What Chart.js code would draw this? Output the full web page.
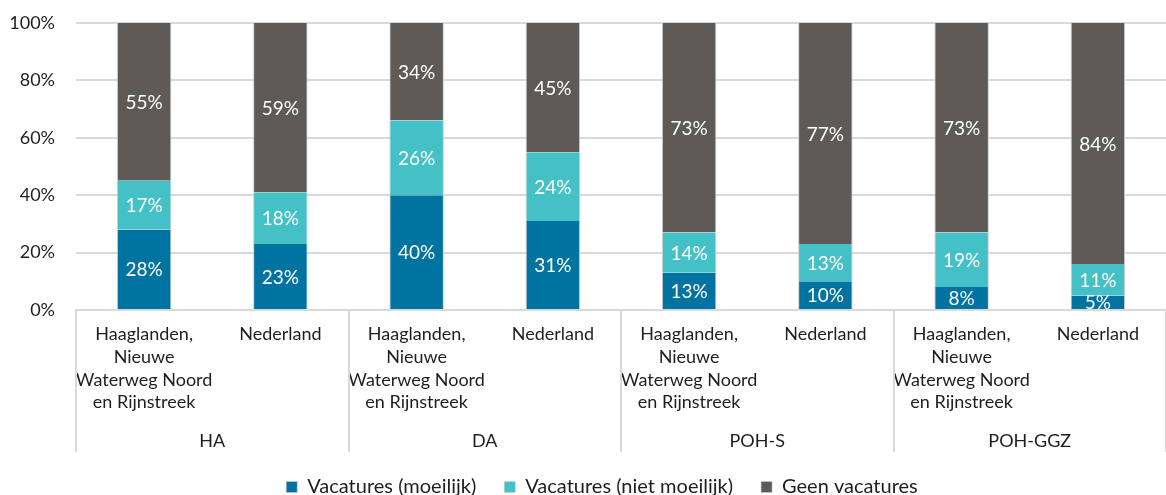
<!DOCTYPE html>
<html>
<head>
<meta charset="utf-8">
<script src="https://cdn.jsdelivr.net/npm/chart.js@4.4.1/dist/chart.umd.min.js"></script>
<style>
  html, body { margin: 0; padding: 0; background: #fff; }
  #wrap { width: 1166px; height: 495px; }
</style>
</head>
<body>
<div id="wrap"><canvas id="vacChart"></canvas></div>
<script>
const regionLabel = ["Haaglanden,", "Nieuwe", "Waterweg Noord", "en Rijnstreek"];
const categories = [regionLabel, "Nederland", regionLabel, "Nederland", regionLabel, "Nederland", regionLabel, "Nederland"];
const groups = ["HA", "DA", "POH-S", "POH-GGZ"];

const moeilijk = [28, 23, 40, 31, 13, 10, 8, 5];
const nietMoeilijk = [17, 18, 26, 24, 14, 13, 19, 11];
const geen = [55, 59, 34, 45, 73, 77, 73, 84];

const yTicks = [0, 20, 40, 60, 80, 100];

const fontName = "Lato, 'Noto Sans', sans-serif";
const gridColor = "#d9d9d9";
const textColor = "#1e1e1e";

// white % labels in the middle of every segment
const segmentLabels = {
  id: "segmentLabels",
  afterDatasetsDraw(chart) {
    const ctx = chart.ctx;
    const area = chart.chartArea;
    ctx.save();
    ctx.beginPath();
    ctx.rect(area.left, area.top, area.right - area.left, area.bottom - area.top);
    ctx.clip();
    ctx.font = "19px " + fontName;
    ctx.fillStyle = "#ffffff";
    ctx.textAlign = "center";
    ctx.textBaseline = "middle";
    chart.data.datasets.forEach((ds, i) => {
      const meta = chart.getDatasetMeta(i);
      meta.data.forEach((bar, j) => {
        const yMid = (bar.y + bar.base) / 2 + 1;
        ctx.fillText(ds.data[j] + "%", bar.x, yMid);
      });
    });
    ctx.restore();
  },
};

// second level of the x axis: group names + separator lines
const groupAxis = {
  id: "groupAxis",
  afterLayout(chart) {
    // legend sits a bit right of centre in the original
    chart.legend.left += 19;
    chart.legend.right += 19;
  },
  afterDraw(chart) {
    const ctx = chart.ctx;
    const xScale = chart.scales.x;
    const area = chart.chartArea;
    const step = xScale.getPixelForValue(1) - xScale.getPixelForValue(0);
    ctx.save();
    ctx.strokeStyle = gridColor;
    ctx.lineWidth = 2;
    for (let g = 0; g <= groups.length; g++) {
      let x = xScale.getPixelForValue(g * 2) - step / 2;
      x = Math.round(x);
      ctx.beginPath();
      ctx.moveTo(x, area.bottom);
      ctx.lineTo(x, area.bottom + 142);
      ctx.stroke();
    }
    ctx.font = "18px " + fontName;
    ctx.fillStyle = textColor;
    ctx.textAlign = "center";
    ctx.textBaseline = "middle";
    groups.forEach((name, g) => {
      const x = (xScale.getPixelForValue(g * 2) + xScale.getPixelForValue(g * 2 + 1)) / 2;
      ctx.fillText(name, x, area.bottom + 131);
    });
    ctx.restore();
  },
};

const barCommon = {
  borderColor: "#cfcfcf",
  borderWidth: { left: 1, right: 1, top: 0, bottom: 0 },
  borderSkipped: false,
  categoryPercentage: 1,
  barPercentage: 0.4,
};

new Chart(document.getElementById("vacChart"), {
  type: "bar",
  data: {
    labels: categories,
    datasets: [
      Object.assign({ label: "Vacatures (moeilijk)", data: moeilijk, backgroundColor: "#0073a0" }, barCommon),
      Object.assign({ label: "Vacatures (niet moeilijk)", data: nietMoeilijk, backgroundColor: "#44c1c6" }, barCommon),
      Object.assign({ label: "Geen vacatures", data: geen, backgroundColor: "#5e5a57" }, barCommon),
    ],
  },
  options: {
    responsive: true,
    maintainAspectRatio: false,
    animation: false,
    layout: { padding: { top: 23, right: 0, left: 0, bottom: 0 } },
    plugins: {
      legend: {
        position: "bottom",
        maxHeight: 46,
        labels: {
          font: { family: fontName, size: 20 },
          color: textColor,
          boxWidth: 11,
          boxHeight: 11,
          padding: 28,
        },
      },
      tooltip: { enabled: false },
    },
    scales: {
      x: {
        stacked: true,
        grid: { display: false, drawTicks: false },
        border: { display: true, color: gridColor, width: 2 },
        ticks: {
          font: { family: fontName, size: 18, lineHeight: 1.26 },
          color: textColor,
          padding: 13,
          maxRotation: 0,
          autoSkip: false,
        },
        afterFit(scale) {
          scale.height = 139;
        },
      },
      y: {
        stacked: true,
        min: 0,
        max: 100,
        afterBuildTicks(scale) {
          scale.ticks = yTicks.map((v) => ({ value: v }));
        },
        grid: { color: gridColor, lineWidth: 2, drawTicks: false },
        border: { display: false },
        ticks: {
          font: { family: fontName, size: 18 },
          color: textColor,
          padding: 21,
          callback: (v) => v + "%",
        },
        afterFit(scale) {
          scale.width = 76;
          scale.paddingTop = 0;
          scale.paddingBottom = 0;
        },
      },
    },
  },
  plugins: [segmentLabels, groupAxis],
});
</script>
</body>
</html>
